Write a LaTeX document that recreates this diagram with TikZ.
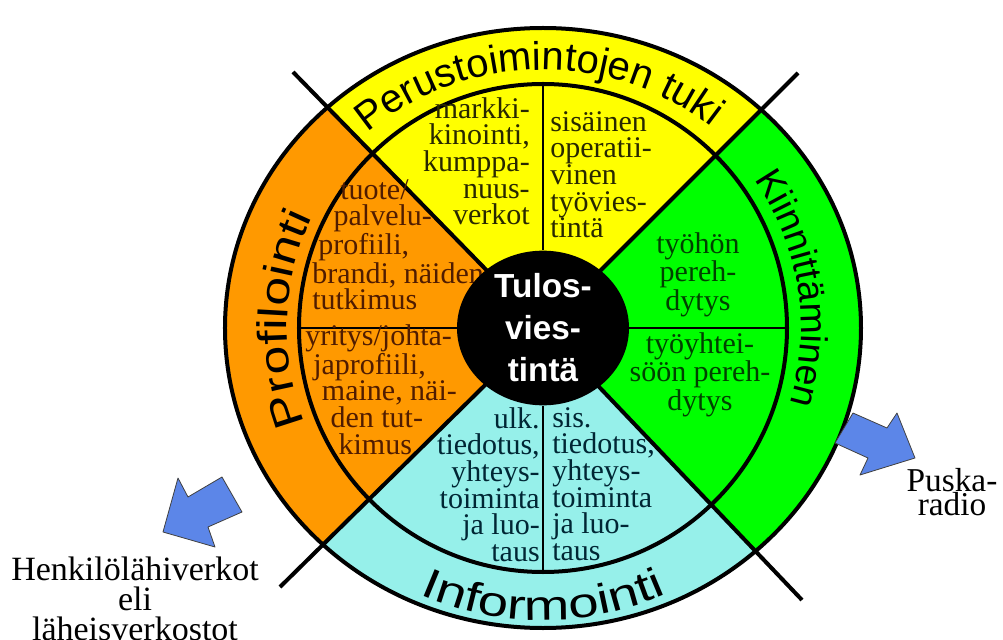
\documentclass[tikz,border=0pt]{standalone}
\usepackage{fontspec}
\setmainfont{Liberation Serif}
\newfontfamily\ringfont{Liberation Sans}
\newfontfamily\ringwidefont[FakeStretch=1.25]{Liberation Sans}
\newfontfamily\ringwiderfont[FakeStretch=1.3]{Liberation Sans}
\usetikzlibrary{shapes.geometric, decorations.text}

\definecolor{profileorange}{RGB}{255,153,0}
\definecolor{supportyellow}{RGB}{255,255,0}
\definecolor{bindgreen}{RGB}{0,255,0}
\definecolor{infocyan}{RGB}{150,240,234}
\definecolor{arrowblue}{RGB}{92,134,232}
\definecolor{orangetext}{RGB}{80,28,0}
\definecolor{yellowtext}{RGB}{40,40,0}
\definecolor{greentext}{RGB}{0,65,0}
\definecolor{cyantext}{RGB}{0,38,52}

\begin{document}
\begin{tikzpicture}[
    x=0.75pt, y=0.75pt,
    thickline/.style={line width=3pt},
    thinline/.style={line width=1.1pt},
    quadtext/.style={font=\fontsize{22.5}{20}\selectfont, inner sep=0pt},
    ringlabel/.style={decorate, decoration={text along path, text align=center}},
    bluearrow/.style={fill=arrowblue, draw=black!75, line width=0.6pt, line join=round},
    sidelabel/.style={inner sep=0pt, align=center}
]
\useasboundingbox (-543,-311) rectangle (460,328);

% ============ SECTORS ============
\coordinate (tl) at (-250,256);
\coordinate (bl) at (-263,-259);
\coordinate (tr) at (255,255);
\coordinate (br) at (259,-272);

\begin{scope}
    \clip (0,0) ellipse [x radius=318, y radius=300];
    \fill[profileorange] (0,0) -- (-500,512) -- (-526,-518) -- cycle;
    \fill[supportyellow] (0,0) -- (-500,512) -- (510,510) -- cycle;
    \fill[bindgreen] (0,0) -- (510,510) -- (518,-544) -- cycle;
    \fill[infocyan] (0,0) -- (518,-544) -- (-526,-518) -- cycle;
\end{scope}

% Rings and dividers
\draw[thickline] (0,0) ellipse [x radius=318, y radius=300];
\draw[thickline] (0,0) circle [radius=244];
\draw[thickline] (0,0) -- (tl);
\draw[thickline] (0,0) -- (bl);
\draw[thickline] (0,0) -- (tr);
\draw[thickline] (0,0) -- (br);
\draw[thinline] (0,78) -- (0,244);
\draw[thinline] (0,-78) -- (0,-244);
\draw[thinline] (-244,0) -- (-86,0);
\draw[thinline] (86,0) -- (244,0);

% ============ RING LABELS ============
\path[ringlabel, decoration={text={|\ringfont\fontsize{30}{30}\selectfont|Perustoimintojen tuki}}]
    (166:268 and 258) arc [start angle=166, end angle=16, x radius=268, y radius=258];
\path[ringlabel, decoration={text={|\ringfont\fontsize{28}{28}\selectfont|Kiinnittäminen}}]
    (74:258) arc [start angle=74, end angle=-56, radius=258];
\path[ringlabel, decoration={text={|\ringwidefont\fontsize{31}{31}\selectfont|Profilointi}}]
    (243:256) arc [start angle=243, end angle=113, radius=256];
\path[ringlabel, decoration={text={|\ringwiderfont\fontsize{31.5}{31.5}\selectfont|Informointi}}]
    (200:300 and 292) arc [start angle=200, end angle=340, x radius=300, y radius=292];

% ============ QUADRANT TEXTS ============
\node[quadtext, text=yellowtext, align=right, anchor=north east] (market) at (-13,231)
    {markki-\\kinointi,\\kumppa-\\nuus-\\verkot};
\node[quadtext, text=yellowtext, align=left, anchor=north west] (internal) at (7,217)
    {sisäinen\\operatii-\\vinen\\työvies-\\tintä};
\node[quadtext, text=orangetext, align=left, anchor=north west] (brand) at (-231,149)
    {\hspace*{21pt}tuote/\\\hspace*{16pt}palvelu-\\\hspace*{4.5pt}profiili,\\brandi, näiden\\tutkimus};
\node[quadtext, text=orangetext, align=left, anchor=north west] (company) at (-238,4)
    {yritys/johta-\\\hspace*{6pt}japrofiili,\\\hspace*{12.5pt}maine, näi-\\\hspace*{19pt}den tut-\\\hspace*{25pt}kimus};
\node[quadtext, text=greentext, align=center, anchor=north] (work) at (155,96)
    {työhön\\pereh-\\dytys};
\node[quadtext, text=greentext, align=center, anchor=north] (community) at (157,-4)
    {työyhtei-\\söön pereh-\\dytys};
\node[quadtext, text=cyantext, align=right, anchor=north east] (external) at (-3,-79)
    {ulk.\\tiedotus,\\yhteys-\\toiminta\\ja luo-\\taus};
\node[quadtext, text=cyantext, align=left, anchor=north west] (inside) at (9,-79)
    {sis.\\tiedotus,\\yhteys-\\toiminta\\ja luo-\\taus};

% ============ HUB ============
\node[ellipse, fill=black, inner sep=0pt, minimum width=129pt, minimum height=116pt,
      text=white, align=center, font=\ringfont\bfseries\fontsize{25}{31.5}\selectfont] (hub) at (0,0)
    {Tulos-\\vies-\\tintä};

% ============ ARROWS ============
\filldraw[bluearrow] (-380,-204) -- (-365,-150) -- (-355,-169) -- (-321,-149)
    -- (-301,-184) -- (-335,-199) -- (-328,-219) -- cycle;
\filldraw[bluearrow] (292,-115) -- (310,-85) -- (344,-100) -- (354,-85)
    -- (372,-130) -- (317,-147) -- (325,-130) -- cycle;

\node[sidelabel, font=\fontsize{25.5}{22.5}\selectfont] (closenets) at (-408,-271)
    {Henkilölähiverkot\\eli\\läheisverkostot};
\node[sidelabel, font=\fontsize{25}{18}\selectfont] (grapevine) at (409,-164)
    {Puska-\\radio};

\end{tikzpicture}
\end{document}
